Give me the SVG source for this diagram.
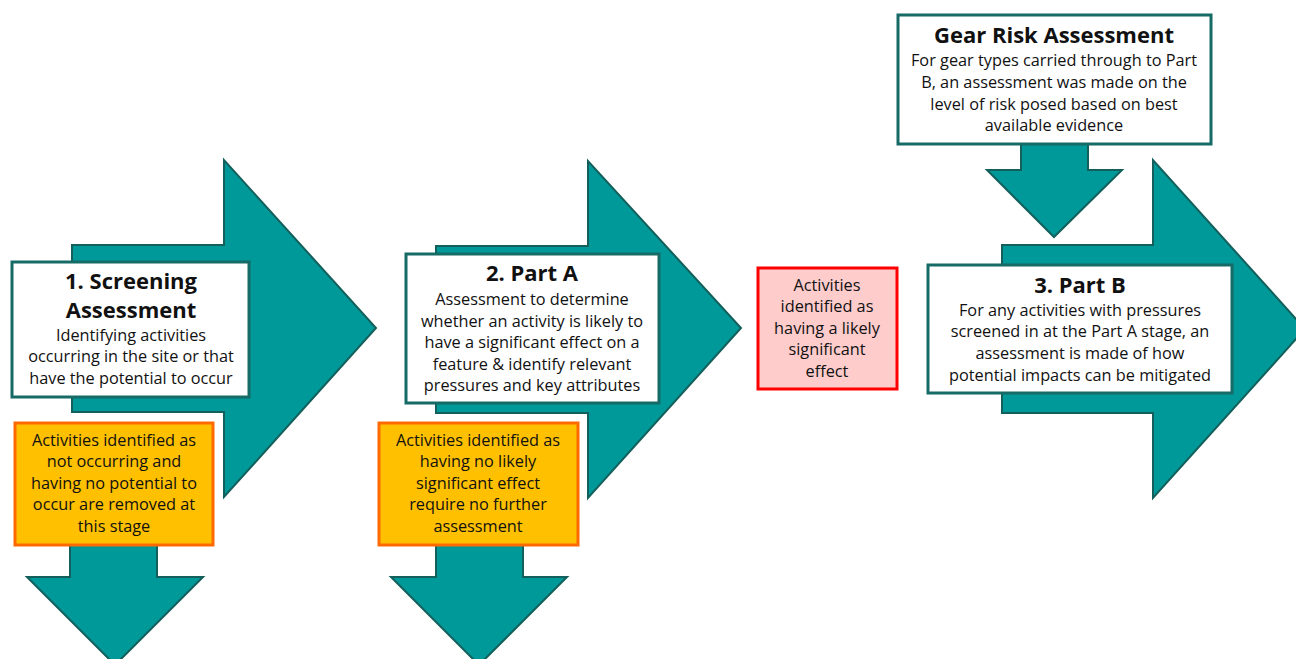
<svg xmlns="http://www.w3.org/2000/svg" width="1296" height="659" viewBox="0 0 1296 659">
<style>
.arr{fill:#009999;stroke:#135F5B;stroke-width:2;stroke-linejoin:miter}
.wb{fill:#FFFFFF;stroke:#176B66;stroke-width:3}
.ob{fill:#FFC000;stroke:#FF6A00;stroke-width:3}
.rb{fill:#FFCCCC;stroke:#FF0000;stroke-width:3}
text{font-family:"Open Sans","Noto Sans",sans-serif;fill:#111;text-anchor:middle}
.t{font-size:22px;font-weight:bold}
.b{font-size:16.3px}
</style>
<rect width="1296" height="659" fill="#FFFFFF"/>
<g id="connectors">
<polygon class="arr" points="72,245 224,245 224,160 376,328 224,497 224,412 72,412"/>
<polygon class="arr" points="436,246 588,246 588,161 741,328 588,498 588,413 436,413"/>
<polygon class="arr" points="1002,245 1153,245 1153,160 1305,329 1153,498 1153,413 1002,413"/>
<polygon class="arr" points="70,530 157,530 157,577 203,577 115,665 27,577 70,577"/>
<polygon class="arr" points="436,530 523,530 523,577 567,577 479,665 391,577 436,577"/>
<polygon class="arr" points="1021,130 1088,130 1088,170 1122,170 1054,237 987,170 1021,170"/>
</g>
<g id="screening">
<rect class="wb" x="12" y="262" width="237" height="135"/>
<text class="t" x="131" y="289">1. Screening</text>
<text class="t" x="131" y="318">Assessment</text>
<text class="b" x="131" y="341">Identifying activities</text>
<text class="b" x="131" y="362">occurring in the site or that</text>
<text class="b" x="131" y="384">have the potential to occur</text>
</g>
<g id="removed">
<rect class="ob" x="15" y="423" width="198" height="122"/>
<text class="b" x="114" y="446">Activities identified as</text>
<text class="b" x="114" y="467">not occurring and</text>
<text class="b" x="114" y="489">having no potential to</text>
<text class="b" x="114" y="510">occur are removed at</text>
<text class="b" x="114" y="532">this stage</text>
</g>
<g id="partA">
<rect class="wb" x="406" y="254" width="253" height="149"/>
<text class="t" x="532" y="281">2. Part A</text>
<text class="b" x="532" y="305">Assessment to determine</text>
<text class="b" x="532" y="327">whether an activity is likely to</text>
<text class="b" x="532" y="348">have a significant effect on a</text>
<text class="b" x="532" y="370">feature &amp; identify relevant</text>
<text class="b" x="532" y="391">pressures and key attributes</text>
</g>
<g id="noeffect">
<rect class="ob" x="379" y="423" width="199" height="122"/>
<text class="b" x="478" y="446">Activities identified as</text>
<text class="b" x="478" y="467">having no likely</text>
<text class="b" x="478" y="489">significant effect</text>
<text class="b" x="478" y="510">require no further</text>
<text class="b" x="478" y="532">assessment</text>
</g>
<g id="likely">
<rect class="rb" x="758" y="268" width="139" height="121"/>
<text class="b" x="827" y="291">Activities</text>
<text class="b" x="827" y="312">identified as</text>
<text class="b" x="827" y="334">having a likely</text>
<text class="b" x="827" y="355">significant</text>
<text class="b" x="827" y="377">effect</text>
</g>
<g id="gear">
<rect class="wb" x="898" y="15" width="313" height="129"/>
<text class="t" x="1054" y="43">Gear Risk Assessment</text>
<text class="b" x="1054" y="66">For gear types carried through to Part</text>
<text class="b" x="1054" y="88">B, an assessment was made on the</text>
<text class="b" x="1054" y="110">level of risk posed based on best</text>
<text class="b" x="1054" y="131">available evidence</text>
</g>
<g id="partB">
<rect class="wb" x="928" y="265" width="304" height="128"/>
<text class="t" x="1080" y="293">3. Part B</text>
<text class="b" x="1080" y="316">For any activities with pressures</text>
<text class="b" x="1080" y="337">screened in at the Part A stage, an</text>
<text class="b" x="1080" y="359">assessment is made of how</text>
<text class="b" x="1080" y="381">potential impacts can be mitigated</text>
</g>
</svg>
